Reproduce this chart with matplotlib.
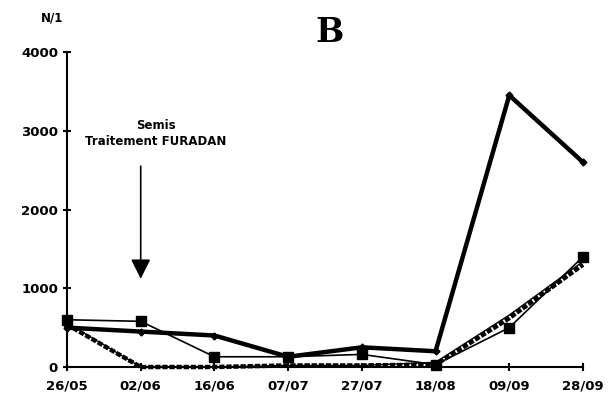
import matplotlib.pyplot as plt

# Dates de prélèvement et densités (N/l)
dates = ['26/05', '02/06', '16/06', '07/07', '27/07', '18/08', '09/09', '28/09']
serie_epaisse = [500, 450, 400, 130, 250, 200, 3450, 2600]
serie_carres = [600, 580, 130, 130, 160, 30, 500, 1400]
serie_hachee = [540, 0, 0, 20, 20, 30, 620, 1300]
serie_triangles = [560, 0, 0, 20, 20, 60, 660, 1340]
yticks = [0, 1000, 2000, 3000, 4000]

fig = plt.figure(figsize=(6.09, 4.05), dpi=100)
ax = fig.add_axes([67 / 609, 1 - 367 / 405, (583 - 67) / 609, (367 - 52) / 405])
x = range(len(dates))

ax.plot(x, serie_hachee, color='black', lw=3.2, ls=(0, (1.2, 0.4)), solid_capstyle='butt', clip_on=False)
ax.plot(x, serie_triangles, color='black', lw=1.0, marker='^', ms=5, markevery=[0], clip_on=False)
ax.plot(x, serie_carres, color='black', lw=1.2, marker='s', ms=7, clip_on=False)
ax.plot(x, serie_epaisse, color='black', lw=3.2, marker='D', ms=3.5, clip_on=False)

ax.set_xlim(0, len(dates) - 1)
ax.set_ylim(0, 4000)
ax.set_xticks(list(x))
ax.set_xticklabels(dates)
ax.set_yticks(yticks)
for s in ['top', 'right']:
    ax.spines[s].set_visible(False)
for s in ['left', 'bottom']:
    ax.spines[s].set_linewidth(1.5)
ax.tick_params(direction='inout', length=6, width=1.5, labelsize=9.5)
for lab in ax.get_xticklabels() + ax.get_yticklabels():
    lab.set_fontweight('bold')
ax.tick_params(axis='x', pad=6)

# Titre et unité
fig.text(52 / 609, 1 - 18 / 405, 'N/1', fontsize=8.5, fontweight='bold', ha='center', va='center')
fig.text(330 / 609, 1 - 32 / 405, 'B', fontsize=24, fontweight='bold', family='DejaVu Serif',
         ha='center', va='center')

# Annotation du traitement
ax.text(1.2, 2780, 'Semis\nTraitement FURADAN', ha='center', va='bottom', fontsize=8.5,
        fontweight='bold', linespacing=1.3)
ax.annotate('', xy=(1, 1120), xytext=(1, 2550),
            arrowprops=dict(arrowstyle='-|>', color='black', lw=1.2, mutation_scale=30,
                            shrinkA=0, shrinkB=0))

fig.savefig('out.png', dpi=100)
